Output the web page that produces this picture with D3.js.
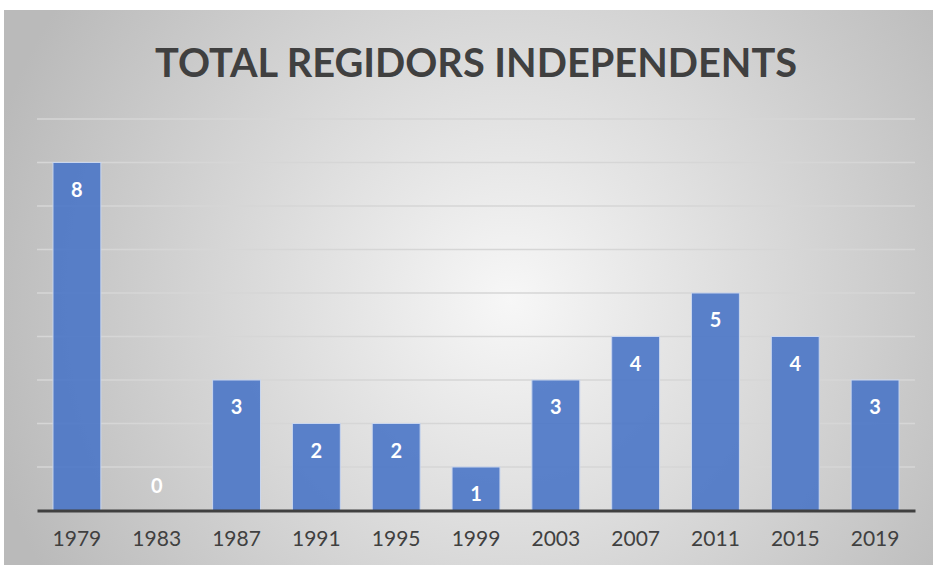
<!DOCTYPE html>
<html>
<head>
<meta charset="utf-8">
<script src="https://cdn.jsdelivr.net/npm/d3@7"></script>
<style>
  html, body { margin: 0; padding: 0; background: #fff; }
  #chart { width: 933px; height: 565px; }
  text { font-family: Lato, "Open Sans", sans-serif; }
</style>
</head>
<body>
<div id="chart"></div>
<script>
const years = ["1979", "1983", "1987", "1991", "1995", "1999", "2003", "2007", "2011", "2015", "2019"];
const totals = [8, 0, 3, 2, 2, 1, 3, 4, 5, 4, 3];
const yTicks = [1, 2, 3, 4, 5, 6, 7, 8, 9];
const title = "TOTAL REGIDORS INDEPENDENTS";

const W = 933, H = 565;
const plotLeft = 37, plotRight = 915, plotTop = 119, plotBottom = 510.5;

const svg = d3.select("#chart").append("svg")
  .attr("width", W)
  .attr("height", H);

// fons amb degradat radial
const grad = svg.append("defs").append("radialGradient")
  .attr("id", "bg")
  .attr("gradientUnits", "userSpaceOnUse")
  .attr("cx", 510).attr("cy", 300).attr("r", 540);
grad.append("stop").attr("offset", "0%").attr("stop-color", "#f7f7f7");
grad.append("stop").attr("offset", "100%").attr("stop-color", "#bababa");

svg.append("rect")
  .attr("x", 4).attr("y", 10)
  .attr("width", W - 4).attr("height", H - 10)
  .attr("fill", "url(#bg)");

svg.append("text")
  .attr("x", 476)
  .attr("y", 77)
  .attr("text-anchor", "middle")
  .attr("font-size", 40)
  .attr("font-weight", 700)
  .attr("fill", "#404040")
  .attr("textLength", 642)
  .attr("lengthAdjust", "spacingAndGlyphs")
  .text(title);

const x = d3.scaleBand()
  .domain(years)
  .range([plotLeft, plotRight])
  .paddingInner(0.4)
  .paddingOuter(0.2);

const y = d3.scaleLinear()
  .domain([0, 9])
  .range([plotBottom, plotTop]);

// línies de quadrícula
svg.append("g")
  .selectAll("line")
  .data(yTicks)
  .join("line")
  .attr("x1", plotLeft).attr("x2", plotRight)
  .attr("y1", d => y(d)).attr("y2", d => y(d))
  .attr("stroke", "#d6d6d6")
  .attr("stroke-width", 1.5);

// barres
svg.append("g")
  .selectAll("rect")
  .data(totals)
  .join("rect")
  .attr("x", (d, i) => x(years[i]))
  .attr("y", d => y(d))
  .attr("width", x.bandwidth())
  .attr("height", d => y(0) - y(d))
  .attr("fill", "#4a76c6")
  .attr("fill-opacity", 0.9)
  .attr("stroke", "#c9d6ee")
  .attr("stroke-width", d => d > 0 ? 1 : 0);

// etiquetes
svg.append("g")
  .selectAll("text")
  .data(totals)
  .join("text")
  .attr("x", (d, i) => x(years[i]) + x.bandwidth() / 2)
  .attr("y", d => d > 0 ? y(d) + 34 : y(0) - 18)
  .attr("text-anchor", "middle")
  .attr("font-size", 20)
  .attr("font-weight", 700)
  .attr("fill", "#ffffff")
  .text(d => d);

// eix x
const xAxis = svg.append("g")
  .attr("transform", "translate(0," + plotBottom + ")")
  .call(d3.axisBottom(x).tickSize(0).tickPadding(21));
xAxis.select(".domain")
  .attr("stroke", "#404040")
  .attr("stroke-width", 3);
xAxis.selectAll("text")
  .attr("font-size", 21)
  .attr("fill", "#404040")
  .style("font-family", "Lato, 'Open Sans', sans-serif");
</script>
</body>
</html>
